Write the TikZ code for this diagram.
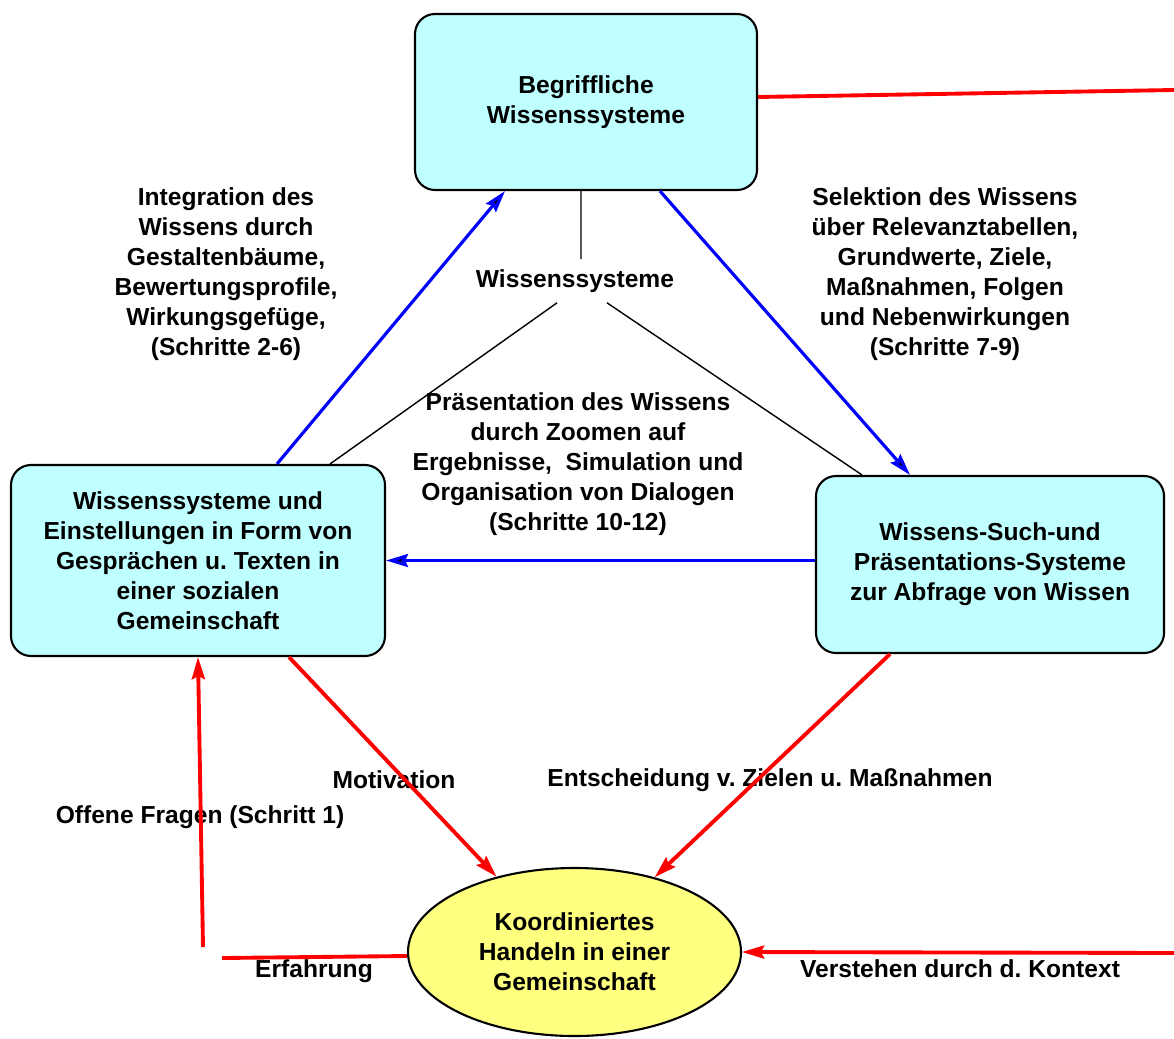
\documentclass[tikz,border=0pt]{standalone}
\usepackage{fontspec}
\setmainfont{Liberation Sans}
\usetikzlibrary{
    arrows.meta,
    shapes.geometric
}
\definecolor{boxcyan}{RGB}{192,255,255}
\definecolor{ellyellow}{RGB}{255,255,128}
\frenchspacing

\begin{document}
\begin{tikzpicture}[
    font=\fontsize{14pt}{17pt}\selectfont\bfseries,
    box/.style={draw, line width=1.2pt, rounded corners=0.4cm, fill=boxcyan, align=center, inner sep=0pt},
    lbl/.style={align=center, inner sep=0pt},
    conn/.style={line width=0.8pt},
    blueline/.style={draw=blue, line width=1.8pt},
    redline/.style={draw=red, line width=2.2pt},
    tip/.style={-{Stealth[length=0.44cm, width=0.26cm, inset=0.06cm]}}
]
    \useasboundingbox (0, 0) rectangle (23.48, -20.76);
    \node[box, minimum width=6.84cm, minimum height=3.52cm] (tbox) at (11.72, -2.04) {Begriffliche\\Wissenssysteme};
    \node[box, minimum width=7.48cm, minimum height=3.82cm] (lbox) at (3.96, -11.21) {Wissenssysteme und\\Einstellungen in Form von\\Gesprächen u. Texten in\\einer sozialen\\Gemeinschaft};
    \node[box, minimum width=6.96cm, minimum height=3.54cm] (rbox) at (19.8, -11.29) {Wissens-Such-und\\Präsentations-Systeme\\zur Abfrage von Wissen};
    \node[ellipse, draw, line width=1.2pt, fill=ellyellow, minimum width=6.66cm, minimum height=3.36cm, inner sep=0pt, align=center] (koord) at (11.49, -19.04) {Koordiniertes\\Handeln in einer\\Gemeinschaft};
    \node[inner sep=0.2cm] (wsys) at (11.5, -5.62) {Wissenssysteme};

    \node[lbl] (integ) at (4.52, -5.48) {Integration des\\Wissens durch\\Gestaltenbäume,\\Bewertungsprofile,\\Wirkungsgefüge,\\(Schritte 2-6)};
    \node[lbl] (selekt) at (18.9, -5.48) {Selektion des Wissens\\über Relevanztabellen,\\Grundwerte, Ziele,\\Maßnahmen, Folgen\\und Nebenwirkungen\\(Schritte 7-9)};
    \node[lbl] (praes) at (11.56, -9.28) {Präsentation des Wissens\\durch Zoomen auf\\Ergebnisse,\ \ Simulation und\\Organisation von Dialogen\\(Schritte 10-12)};
    \node[lbl] (motiv) at (7.88, -15.6) {Motivation};
    \node[lbl] (entsch) at (15.4, -15.6) {Entscheidung v. Zielen u. Maßnahmen};
    \node[lbl] (offen) at (4.0, -16.34) {Offene Fragen (Schritt 1)};
    \node[lbl] (erf) at (6.28, -19.42) {Erfahrung};
    \node[lbl] (verst) at (19.2, -19.38) {Verstehen durch d. Kontext};

    \coordinate (rtop) at (23.48, -1.8);
    \coordinate (efs) at (4.06, -18.94);
    \coordinate (efe) at (4.44, -19.16);
    \coordinate (rkon) at (23.48, -19.06);

    \draw[conn]
    ([xshift=-0.1cm]tbox.south) edge ([xshift=0.12cm]wsys.north)
    ([xshift=-0.36cm]wsys.south) edge ([xshift=2.64cm]lbox.north)
    ([xshift=0.64cm]wsys.south) edge ([xshift=-2.56cm]rbox.north);
    \draw[blueline]
    ([xshift=1.58cm]lbox.north) edge[tip] ([xshift=-1.62cm]tbox.south)
    ([xshift=1.48cm]tbox.south) edge[tip] ([xshift=-1.6cm]rbox.north)
    (rbox.west |- lbox.east) edge[tip] (lbox.east);
    \draw[redline]
    ([yshift=0.1cm]tbox.east) edge (rtop)
    ([xshift=1.82cm]lbox.south) edge[tip] (koord.136)
    ([xshift=-2cm]rbox.south) edge[tip] (koord.43)
    (efs) edge[tip] (lbox.south)
    ([yshift=-0.08cm]koord.west) edge (efe)
    (rkon) edge[tip] (koord.east);
\end{tikzpicture}
\end{document}
